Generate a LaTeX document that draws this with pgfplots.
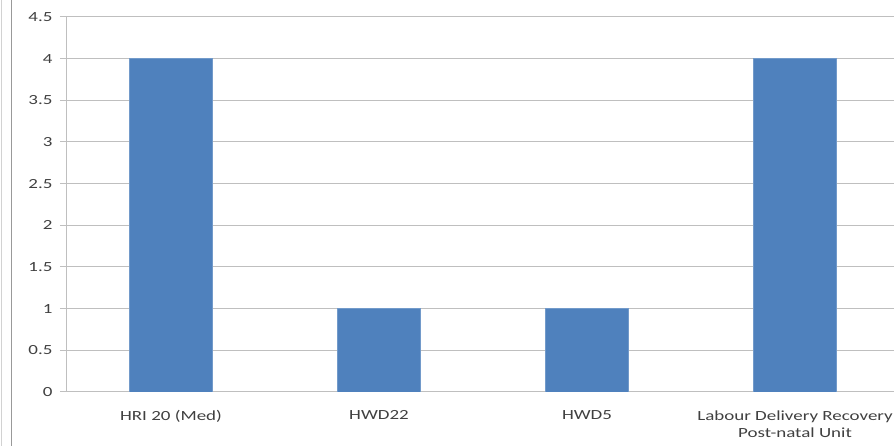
\documentclass[border=0pt]{standalone}
\usepackage{pgfplots}
\pgfplotsset{compat=1.18}
\usepackage{fontspec}
\setmainfont{Carlito}[FakeStretch=1.36]
\definecolor{barblue}{HTML}{4F81BD}
\definecolor{gridgray}{HTML}{BFBFBF}
\definecolor{txt}{HTML}{404040}
\begin{document}
\begin{tikzpicture}[x=1bp,y=1bp]
\begin{axis}[
  at={(0,0)}, anchor=south west,
  scale only axis, width=832bp, height=375bp,
  xmin=-0.5, xmax=3.5, ymin=0, ymax=4.5,
  axis lines=left, axis line style={gridgray, line width=1bp, -},
  ytick={0,0.5,...,4.5},
  ymajorgrids, grid style={gridgray, line width=1bp},
  xtick={0,1,2,3},
  xticklabels={HRI 20 (Med),HWD22,HWD5,{Labour Delivery Recovery\\Post-natal Unit}},
  extra x ticks={-0.5,0.5,1.5,2.5,3.5},
  extra x tick labels={},
  extra x tick style={grid=none, major tick length=6bp, tick style={gridgray, line width=1bp}},
  x tick style={draw=none},
  y tick style={gridgray, line width=1bp},
  tick align=outside, major tick length=7bp,
  /pgf/number format/assume math mode=true,
  tick label style={font=\fontsize{14}{17}\selectfont, text=txt},
  xticklabel style={align=center, yshift=-8bp},
  yticklabel style={xshift=-4bp},
  ybar, bar width=83bp,
]
\addplot[fill=barblue, draw=barblue!80!white, line width=0.5bp] coordinates {(0,4) (1,1) (2,1) (3,4)};
\end{axis}
\draw[gridgray!70, line width=1bp] (-65.5,-54) -- (-65.5,392);
\draw[gray!80, line width=1.5bp] (-55.5,-54) -- (-55.5,392);
\pgfresetboundingbox
\useasboundingbox (-67,-54) rectangle (827,392);
\end{tikzpicture}
\end{document}
